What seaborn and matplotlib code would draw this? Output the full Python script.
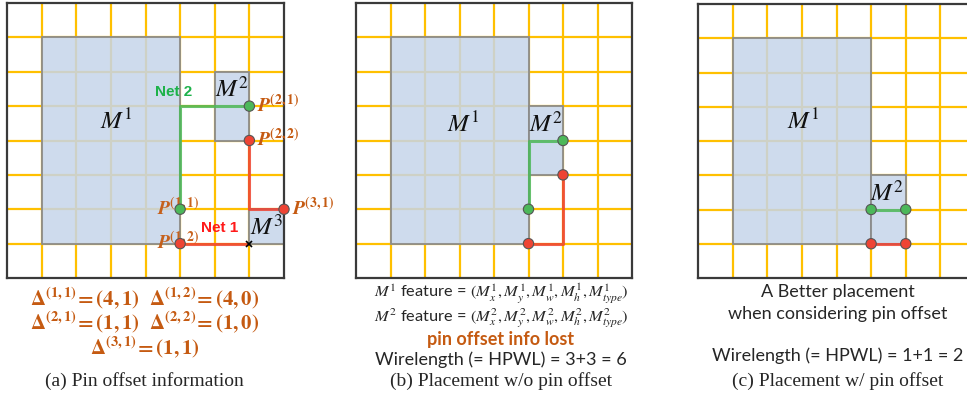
import pandas as pd
import matplotlib.pyplot as plt
import seaborn as sns
from matplotlib.patches import Rectangle

sns.set_style('white')
plt.rcParams['font.family'] = ['Lato', 'DejaVu Sans']
plt.rcParams['mathtext.fontset'] = 'stix'

# Данные: сетка 8x8, макросы, пины и цепи для трёх панелей
grid_n = 8

# (a) исходное размещение
a_macro_name = ['M^1', 'M^2', 'M^3']
a_macro_x = [1, 6, 7]
a_macro_y = [1, 4, 1]
a_macro_w = [4, 1, 1]
a_macro_h = [6, 2, 1]
a_label_x = [3.15, 6.5, 7.5]
a_label_y = [4.6, 5.5, 1.5]
a_pin_x = [5, 7, 5, 7, 8]
a_pin_y = [2, 5, 1, 4, 2]
a_pin_net = ['Net 2', 'Net 2', 'Net 1', 'Net 1', 'Net 1']
a_pin_name = ['(1,1)', '(2,1)', '(1,2)', '(2,2)', '(3,1)']
a_net2_path = [([5, 5, 7], [2, 5, 5])]
a_net1_path = [([5, 7], [1, 1]), ([7, 7, 8], [4, 2, 2])]

# (b) размещение без учёта смещения пинов
b_macro_name = ['M^1', 'M^2']
b_macro_x = [1, 5]
b_macro_y = [1, 3]
b_macro_w = [4, 1]
b_macro_h = [6, 2]
b_label_x = [3.1, 5.5]
b_label_y = [4.5, 4.5]
b_pin_x = [5, 6, 5, 6]
b_pin_y = [2, 4, 1, 3]
b_pin_net = ['Net 2', 'Net 2', 'Net 1', 'Net 1']
b_net2_path = [([5, 5, 6], [2, 4, 4])]
b_net1_path = [([5, 6, 6], [1, 1, 3])]

# (c) размещение с учётом смещения пинов
c_macro_name = ['M^1', 'M^2']
c_macro_x = [1, 5]
c_macro_y = [1, 1]
c_macro_w = [4, 1]
c_macro_h = [6, 2]
c_label_x = [3.05, 5.45]
c_label_y = [4.6, 2.5]
c_pin_x = [5, 6, 5, 6]
c_pin_y = [2, 2, 1, 1]
c_pin_net = ['Net 2', 'Net 2', 'Net 1', 'Net 1']
c_net2_path = [([5, 6], [2, 2])]
c_net1_path = [([5, 6], [1, 1])]

ORANGE = '#C55A11'
GRID = '#FFC000'
BLUE = (0.776, 0.835, 0.918, 0.85)
GREEN = '#4CB85A'
RED = '#EE4434'
pin_palette = {'Net 2': GREEN, 'Net 1': RED}


def draw_panel(ax, names, mx, my, mw, mh, lx, ly, px, py, pnet, net2, net1):
    ax.set_xlim(0, grid_n)
    ax.set_ylim(0, grid_n)
    for k in range(1, grid_n):
        ax.axvline(k, color=GRID, lw=1.6, zorder=1)
        ax.axhline(k, color=GRID, lw=1.6, zorder=1)
    for n, x, y, w, h, tx, ty in zip(names, mx, my, mw, mh, lx, ly):
        ax.add_patch(Rectangle((x, y), w, h, facecolor=BLUE,
                               edgecolor='#8C8C8C', lw=1.3, zorder=2))
        ax.text(tx, ty, f'${n}$', fontsize=18, ha='center', va='center',
                color='#111111', zorder=6)
    for xs, ys in net2:
        ax.plot(xs, ys, color=GREEN, lw=2.2, alpha=0.85, zorder=3,
                solid_capstyle='butt')
    for xs, ys in net1:
        ax.plot(xs, ys, color=RED, lw=2.2, alpha=0.85, zorder=3,
                solid_capstyle='butt')
    df = pd.DataFrame({'x': px, 'y': py, 'net': pnet})
    sns.scatterplot(data=df, x='x', y='y', hue='net', palette=pin_palette,
                    s=55, edgecolor='#555555', linewidth=0.8, legend=False,
                    ax=ax, zorder=5, clip_on=False)
    ax.set_xlabel('')
    ax.set_ylabel('')
    ax.set_xticks([])
    ax.set_yticks([])
    for s in ax.spines.values():
        s.set_color('#3A3A3A')
        s.set_linewidth(1.6)
        s.set_visible(True)


fig = plt.figure(figsize=(9.67, 3.99), dpi=100)
W, H = 967, 399
ax_a = fig.add_axes([7 / W, 1 - 278 / H, 277 / W, 275 / H])
ax_b = fig.add_axes([356 / W, 1 - 278 / H, 276 / W, 275 / H])
ax_c = fig.add_axes([698 / W, 1 - 278 / H, 277 / W, 274 / H])

draw_panel(ax_a, a_macro_name, a_macro_x, a_macro_y, a_macro_w, a_macro_h,
           a_label_x, a_label_y, a_pin_x, a_pin_y, a_pin_net, a_net2_path, a_net1_path)
draw_panel(ax_b, b_macro_name, b_macro_x, b_macro_y, b_macro_w, b_macro_h,
           b_label_x, b_label_y, b_pin_x, b_pin_y, b_pin_net, b_net2_path, b_net1_path)
draw_panel(ax_c, c_macro_name, c_macro_x, c_macro_y, c_macro_w, c_macro_h,
           c_label_x, c_label_y, c_pin_x, c_pin_y, c_pin_net, c_net2_path, c_net1_path)

# подписи пинов на панели (a)
for x, y, name in zip(a_pin_x, a_pin_y, a_pin_name):
    label = rf'$\mathbfit{{P}}^{{\mathbf{{{name}}}}}$'
    if x == 5:
        ax_a.text(x - 0.68, y + 0.08, label, color=ORANGE,
                  fontsize=14, ha='left', va='center', zorder=4, alpha=0.95)
    else:
        ax_a.text(x + 0.22, y + 0.08, label, color=ORANGE,
                  fontsize=14, ha='left', va='center', zorder=6)
ax_a.plot([7], [1], marker='x', color='black', ms=5, mew=1.2, zorder=6)
ax_a.text(4.8, 5.4, 'Net 2', color='#1DB24A', fontsize=11, fontweight='bold',
          family='Liberation Sans', ha='center', va='center', zorder=6)
ax_a.text(6.15, 1.45, 'Net 1', color='#FF1A1A', fontsize=11, fontweight='bold',
          family='Liberation Sans', ha='center', va='center', zorder=6)

# тексты под панелями
delta_lines = [r'$\mathbf{\Delta^{(1,1)}\!=(4,1)}$  $\mathbf{\Delta^{(1,2)}\!=(4,0)}$',
               r'$\mathbf{\Delta^{(2,1)}\!=(1,1)}$  $\mathbf{\Delta^{(2,2)}\!=(1,0)}$',
               r'$\mathbf{\Delta^{(3,1)}\!=(1,1)}$']
for i, t in enumerate(delta_lines):
    fig.text(145 / W, 1 - (298 + 24.5 * i) / H, t, color=ORANGE, fontsize=15,
             ha='center', va='center')

fig.text(501 / W, 1 - 294 / H,
         r'$M^1$ feature = $(M^1_x, M^1_y, M^1_w, M^1_h, M^1_{type})$',
         fontsize=11.8, ha='center', va='center')
fig.text(501 / W, 1 - 318 / H,
         r'$M^2$ feature = $(M^2_x, M^2_y, M^2_w, M^2_h, M^2_{type})$',
         fontsize=11.8, ha='center', va='center')
fig.text(501 / W, 1 - 340 / H, 'pin offset info lost', color=ORANGE,
         fontsize=13, fontweight='bold', ha='center', va='center')
fig.text(501 / W, 1 - 360 / H, 'Wirelength (= HPWL) = 3+3 = 6',
         fontsize=13, ha='center', va='center')

fig.text(838 / W, 1 - 292 / H, 'A Better placement', fontsize=13,
         ha='center', va='center')
fig.text(838 / W, 1 - 314 / H, 'when considering pin offset', fontsize=13,
         ha='center', va='center')
fig.text(838 / W, 1 - 356 / H, 'Wirelength (= HPWL) = 1+1 = 2',
         fontsize=13, ha='center', va='center')

captions = ['(a) Pin offset information', '(b) Placement w/o pin offset',
            '(c) Placement w/ pin offset']
for cx, cap in zip([144, 501, 838], captions):
    fig.text(cx / W, 1 - 381 / H, cap, fontsize=14, family='Liberation Serif',
             ha='center', va='center')

plt.savefig('out.png', dpi=100)
